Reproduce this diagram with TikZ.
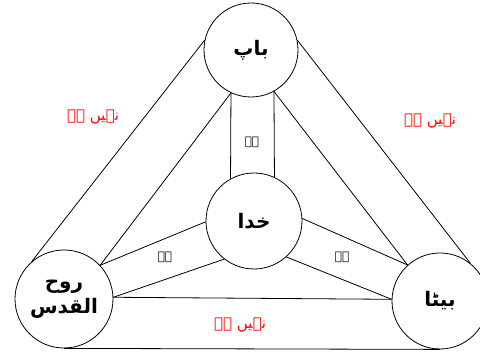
\documentclass[tikz,border=0pt]{standalone}
\usepackage{fontspec}
\newfontfamily\urdufont[Script=Arabic]{DejaVu Sans}
\TeXXeTstate=1
\begin{document}
\begin{tikzpicture}[x=1pt, y=1pt,
		person/.style={circle, draw, line width=0.8pt, inner sep=0pt, align=center, font=\urdufont\bfseries\fontsize{20}{25}\selectfont},
		link/.style={line width=0.8pt},
		is/.style={font=\urdufont\fontsize{12}{14}\selectfont},
		isnot/.style={text=red, font=\urdufont\fontsize{15}{17}\selectfont}]
	\useasboundingbox (0,0) rectangle (480,355);

	% Father circle
	\node[person, minimum size=94pt] (father) at (251,305) {\beginR باپ\endR};

	% God circle
	\node[person, minimum size=96pt] (god) at (254,134) {\beginR خدا\endR};

	% Holy Spirit circle
	\node[person, minimum size=98pt] (spirit) at (64,56) {\beginR روح\endR\\\beginR القدس\endR};

	% Son circle
	\node[person, minimum size=96pt] (son) at (440,54) {\beginR بیٹا\endR};

	% Outer triangle
	\draw[link] (father.168) -- (spirit.131);
	\draw[link] (father.12) -- (son.51);
	\draw[link] (spirit.south) -- (son.south);

	% Inner triangle
	\draw[link] (father.245) -- (spirit.43);
	\draw[link] (father.299) -- (son.132);
	\draw[link] (spirit.2) -- (son.178);

	% Bands to the centre
	\draw[link] (father.245) -- (god.119);
	\draw[link] (father.299) -- (god.65);
	\draw[link] (god.181) -- (spirit.43);
	\draw[link] (god.232) -- (spirit.2);
	\draw[link] (god.3) -- (son.132);
	\draw[link] (god.312) -- (son.178);

	% Labels "is"
	\node[is] (isfather) at (252,213) {\beginR ہے\endR};
	\node[is] (isspirit) at (165,98) {\beginR ہے\endR};
	\node[is] (isson) at (342,98) {\beginR ہے\endR};

	% Labels "is not"
	\node[isnot] (notleft) at (93,238) {\beginR نہیں ہے\endR};
	\node[isnot] (notright) at (430,234) {\beginR نہیں ہے\endR};
	\node[isnot] (notbottom) at (240,30) {\beginR نہیں ہے\endR};
\end{tikzpicture}
\end{document}
